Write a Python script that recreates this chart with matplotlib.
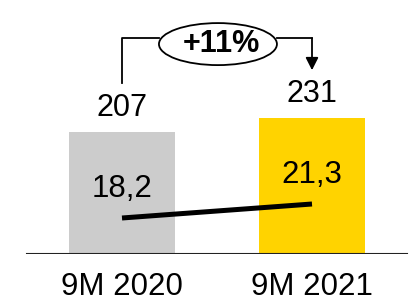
import matplotlib
matplotlib.use('Agg')
import matplotlib.pyplot as plt
from matplotlib.patches import Ellipse

plt.rcParams['font.family'] = ['Liberation Sans', 'DejaVu Sans']

periods = ['9M 2020', '9M 2021']
revenue = [207, 231]          # bars
margin = [18.2, 21.3]         # line
bar_labels = ['207', '231']
line_labels = ['18,2', '21,3']
growth_label = '+11%'
bar_colors = ['#CCCCCC', '#FFD300']

fig = plt.figure(figsize=(4.11, 3.01), dpi=100)
ax = fig.add_axes([0, 47 / 301, 1, 254 / 301])
ax.set_xlim(-122 / 190, 289 / 190)
ax.set_ylim(0, 254 / 0.5894)

x = list(range(len(periods)))
ax.bar(x, revenue, width=106 / 190, color=bar_colors, zorder=1)

for xi, v, lab in zip(x, revenue, bar_labels):
    ax.annotate(lab, (xi, v), xytext=(0, 17.3), textcoords='offset points',
                ha='center', va='center', fontsize=22)

# baseline
ax.axhline(0, xmin=27 / 411, xmax=407 / 411, color='#222222', lw=1.5, zorder=3)

ax.set_xticks(x)
ax.set_xticklabels(periods, fontsize=22.5)
ax.tick_params(axis='x', length=0, pad=13)
ax.set_yticks([])
for s in ax.spines.values():
    s.set_visible(False)

# line on secondary axis
ax2 = ax.twinx()
ax2.set_ylim(18.2 - 36 / 4.516, 18.2 + 218 / 4.516)
ax2.plot(x, margin, color='black', lw=3.6, solid_capstyle='butt', zorder=4)
for xi, v, lab in zip(x, margin, line_labels):
    ax2.annotate(lab, (xi, v), xytext=(0, 21), textcoords='offset points',
                 ha='center', va='center', fontsize=22.5)
ax2.set_yticks([])
for s in ax2.spines.values():
    s.set_visible(False)

# growth bracket
top = max(revenue) * 1.585
ell_x, ell_w, ell_h = 0.505, 0.621, 71.3
ax.plot([0, 0, ell_x - ell_w / 2], [revenue[0] * 1.40, top, top],
        color='black', lw=1.3, clip_on=False)
ax.plot([ell_x + ell_w / 2, 1], [top, top], color='black', lw=1.3, clip_on=False)
ax.annotate('', xy=(1, revenue[1] * 1.35), xytext=(1, top),
            arrowprops=dict(arrowstyle='-|>,head_length=0.75,head_width=0.38',
                            color='black', lw=1.3, shrinkA=0, shrinkB=0))
ax.add_patch(Ellipse((ell_x, top - 10), ell_w, ell_h, facecolor='white',
                     edgecolor='black', lw=1.3, clip_on=False, zorder=5))
ax.text(ell_x + 0.02, top - 10, growth_label, ha='center', va='center',
        fontsize=22, fontweight='bold', zorder=6)

fig.savefig('out.png', dpi=100)
